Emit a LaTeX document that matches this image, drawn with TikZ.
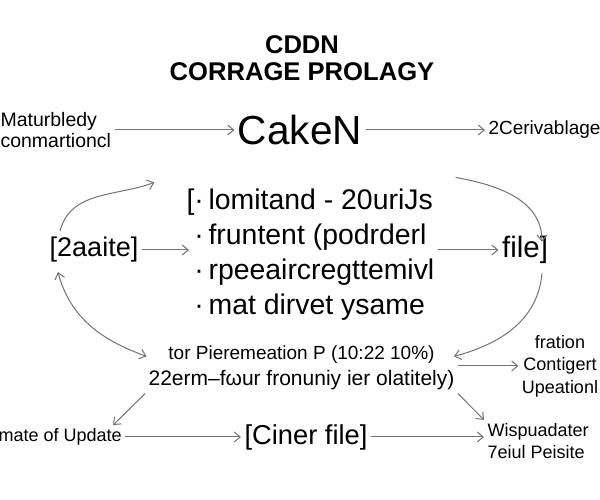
\documentclass[tikz,border=0pt]{standalone}
\usepackage{fontspec}
\setmainfont{Liberation Sans}
\usepackage{tikz}
\usetikzlibrary{arrows.meta,positioning}

\tikzset{
    flow/.style={->, draw=black!55, line width=1pt},
    flowboth/.style={<->, draw=black!55, line width=1pt},
    small/.style={font=\fontsize{18}{22}\selectfont},
    big/.style={font=\fontsize{27}{35}\selectfont}
}

\begin{document}
\begin{tikzpicture}[x=1pt, y=1pt, >={Straight Barb[length=6pt,width=10pt]}]
    \useasboundingbox (0,0) rectangle (600,500);

    % Title
    \node[align=center, font=\fontsize{25.6}{27}\selectfont\bfseries] (title) at (302,441.5) {CDDN\\CORRAGE PROLAGY};

    % Top row
    \node[anchor=west, align=left, font=\fontsize{19.5}{21}\selectfont] (src) at (-3,370) {Maturbledy\\conmartioncl};
    \node[font=\fontsize{40.6}{44}\selectfont] (cake) at (300,370) {CakeN};
    \node[anchor=west, font=\fontsize{19}{22}\selectfont] (deriv) at (485,370) {2Cerivablage};

    % Middle row
    \node[big] (state) at (94,250) {[2aaite]};
    \node[anchor=west, align=left, font=\fontsize{28.4}{35}\selectfont] (list) at (183,245) {[·\,lomitand - 20uriJs\\
        \hphantom{[}·\,fruntent (podrderl\\
        \hphantom{[}·\,rpeeaircregttemivl\\
        \hphantom{[}·\,mat dirvet ysame};
    \node[font=\fontsize{29.5}{35}\selectfont] (file) at (525,250) {file]};

    % Bottom rows
    \node[align=center, font=\fontsize{19}{26}\selectfont] (param) at (301.5,132) {tor Pieremeation P (10:22 10\%)\\
        {\fontsize{21}{26}\selectfont 22erm–fωur fronuniy ier olatitely)}};
    \node[align=center, font=\fontsize{18}{22.5}\selectfont] (conf) at (560,134) {fration\\Contigert\\Upeationl};
    \node[anchor=west, small] (upd) at (-5,63) {mate of Update};
    \node[font=\fontsize{27.3}{30}\selectfont] (ciner) at (306,63) {[Ciner file]};
    \node[anchor=west, align=left, small] (wisp) at (484,59) {Wispuadater\\7eiul Peisite};

    % Straight connectors
    \draw[flow] (src) -- (cake);
    \draw[flow] (cake) -- (deriv);
    \draw[flow] (state.east) -- ([xshift=6pt]state.east -| list.west);
    \draw[flow] (list.east |- file) -- (file.west);
    \draw[flow] (param.east |- conf) -- (conf.west);
    \draw[flow] (upd) -- (ciner);
    \draw[flow] (ciner.east) -- (ciner.east -| wisp.west);
    \draw[flow] (param.south west) -- ([xshift=-12pt]upd.north east);
    \draw[flow] (param.south east) -- (wisp.north west);

    % Curved connectors
    \draw[flow] ([shift={(-34,3)}]state.north) to[out=75,in=200] ([shift={(-80,-34)}]cake.south west);
    \draw[flow] ([shift={(90,-29)}]cake.south east) to[out=-10,in=90] ([shift={(17,-9)}]file.north);
    \draw[flowboth] ([shift={(-36,-6)}]state.south) to[out=-75,in=160] ([shift={(1.5,-14)}]param.north west);
    \draw[flow] ([shift={(17,-6)}]file.south) to[out=-95,in=15] ([shift={(-4,-14)}]param.north east);
\end{tikzpicture}
\end{document}
